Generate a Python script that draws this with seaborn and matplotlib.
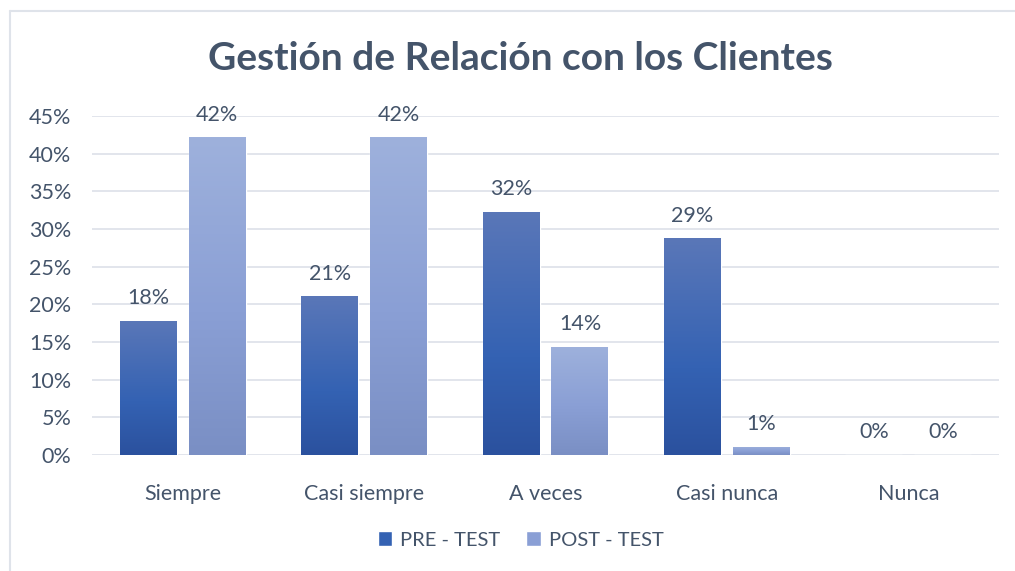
import numpy as np
import pandas as pd
import matplotlib
matplotlib.use("Agg")
import matplotlib.pyplot as plt
from matplotlib.colors import LinearSegmentedColormap
from matplotlib.patches import Patch
from matplotlib.lines import Line2D
import seaborn as sns

# datos
categorias = ["Siempre", "Casi siempre", "A veces", "Casi nunca", "Nunca"]
pre_test = [0.178, 0.211, 0.323, 0.288, 0.0]
post_test = [0.422, 0.422, 0.144, 0.011, 0.0]
series = ["PRE - TEST", "POST - TEST"]
yticks = [0, 0.05, 0.10, 0.15, 0.20, 0.25, 0.30, 0.35, 0.40, 0.45]

df = pd.DataFrame({
    "categoria": categorias * 2,
    "valor": pre_test + post_test,
    "serie": [series[0]] * len(categorias) + [series[1]] * len(categorias),
})

txt = "#44546a"
fs = 15.5
sns.set_theme(style="white")
plt.rcParams["font.family"] = ["Lato", "DejaVu Sans"]

fig = plt.figure(figsize=(10.15, 5.71), dpi=100)
ax = fig.add_axes([92 / 1015, 1 - 455 / 571, 907 / 1015, 339 / 571])

sns.barplot(data=df, x="categoria", y="valor", hue="serie", hue_order=series,
            palette=["#3462b3", "#8a9fd5"], width=0.76, gap=0.174,
            legend=False, ax=ax, zorder=2)

# degradado en las barras
grads = [
    LinearSegmentedColormap.from_list("pre", [(0, "#2b519e"), (0.4, "#3462b3"), (1, "#5a77b8")]),
    LinearSegmentedColormap.from_list("post", [(0, "#7a8fc4"), (0.45, "#8a9fd5"), (1, "#9eb1dc")]),
]
grad = np.linspace(0, 1, 256).reshape(-1, 1)
for cont, cmap in zip(ax.containers, grads):
    for bar in cont:
        h = bar.get_height()
        if h <= 0:
            continue
        x0 = bar.get_x()
        w = bar.get_width()
        im = ax.imshow(grad, cmap=cmap, origin="lower", aspect="auto",
                       extent=[x0, x0 + w, 0, h], zorder=3)
        im.set_clip_path(bar)
    ax.bar_label(cont, labels=[f"{v * 100:.0f}%" for v in cont.datavalues],
                 padding=9, fontsize=fs, color=txt, zorder=4)

ax.set_xlim(-0.5, len(categorias) - 0.5)
ax.set_ylim(0, 0.45)
ax.set_yticks(yticks)
ax.set_yticklabels([f"{t * 100:.0f}%" for t in yticks])
ax.yaxis.grid(True, color="#dfe3ea", linewidth=1.3, zorder=0)
ax.set_axisbelow(True)
for s in ax.spines.values():
    s.set_visible(False)
ax.set_xlabel("")
ax.set_ylabel("")
ax.tick_params(axis="y", labelsize=fs, colors=txt, pad=15, length=0)
ax.tick_params(axis="x", labelsize=fs, colors=txt, pad=21, length=0)

fig.text(0.513, 1 - 58 / 571, "Gestión de Relación con los Clientes",
         ha="center", va="center", fontsize=28, fontweight="bold", color=txt)

handles = [Patch(facecolor="#3462b3"), Patch(facecolor="#8a9fd5")]
fig.legend(handles, series, loc="center", bbox_to_anchor=(0.513, 1 - 540 / 571),
           ncol=2, frameon=False, fontsize=14.5, labelcolor=txt,
           handlelength=0.7, handleheight=0.7, handletextpad=0.4, columnspacing=1.3)

# borde del grafico
fig.add_artist(Line2D([10 / 1015, 10 / 1015], [0, 1 - 11 / 571], transform=fig.transFigure,
                      color="#dfe3ea", linewidth=1.5))
fig.add_artist(Line2D([10 / 1015, 1], [1 - 11 / 571, 1 - 11 / 571], transform=fig.transFigure,
                      color="#dfe3ea", linewidth=1.5))

fig.savefig("out.png", dpi=100)
